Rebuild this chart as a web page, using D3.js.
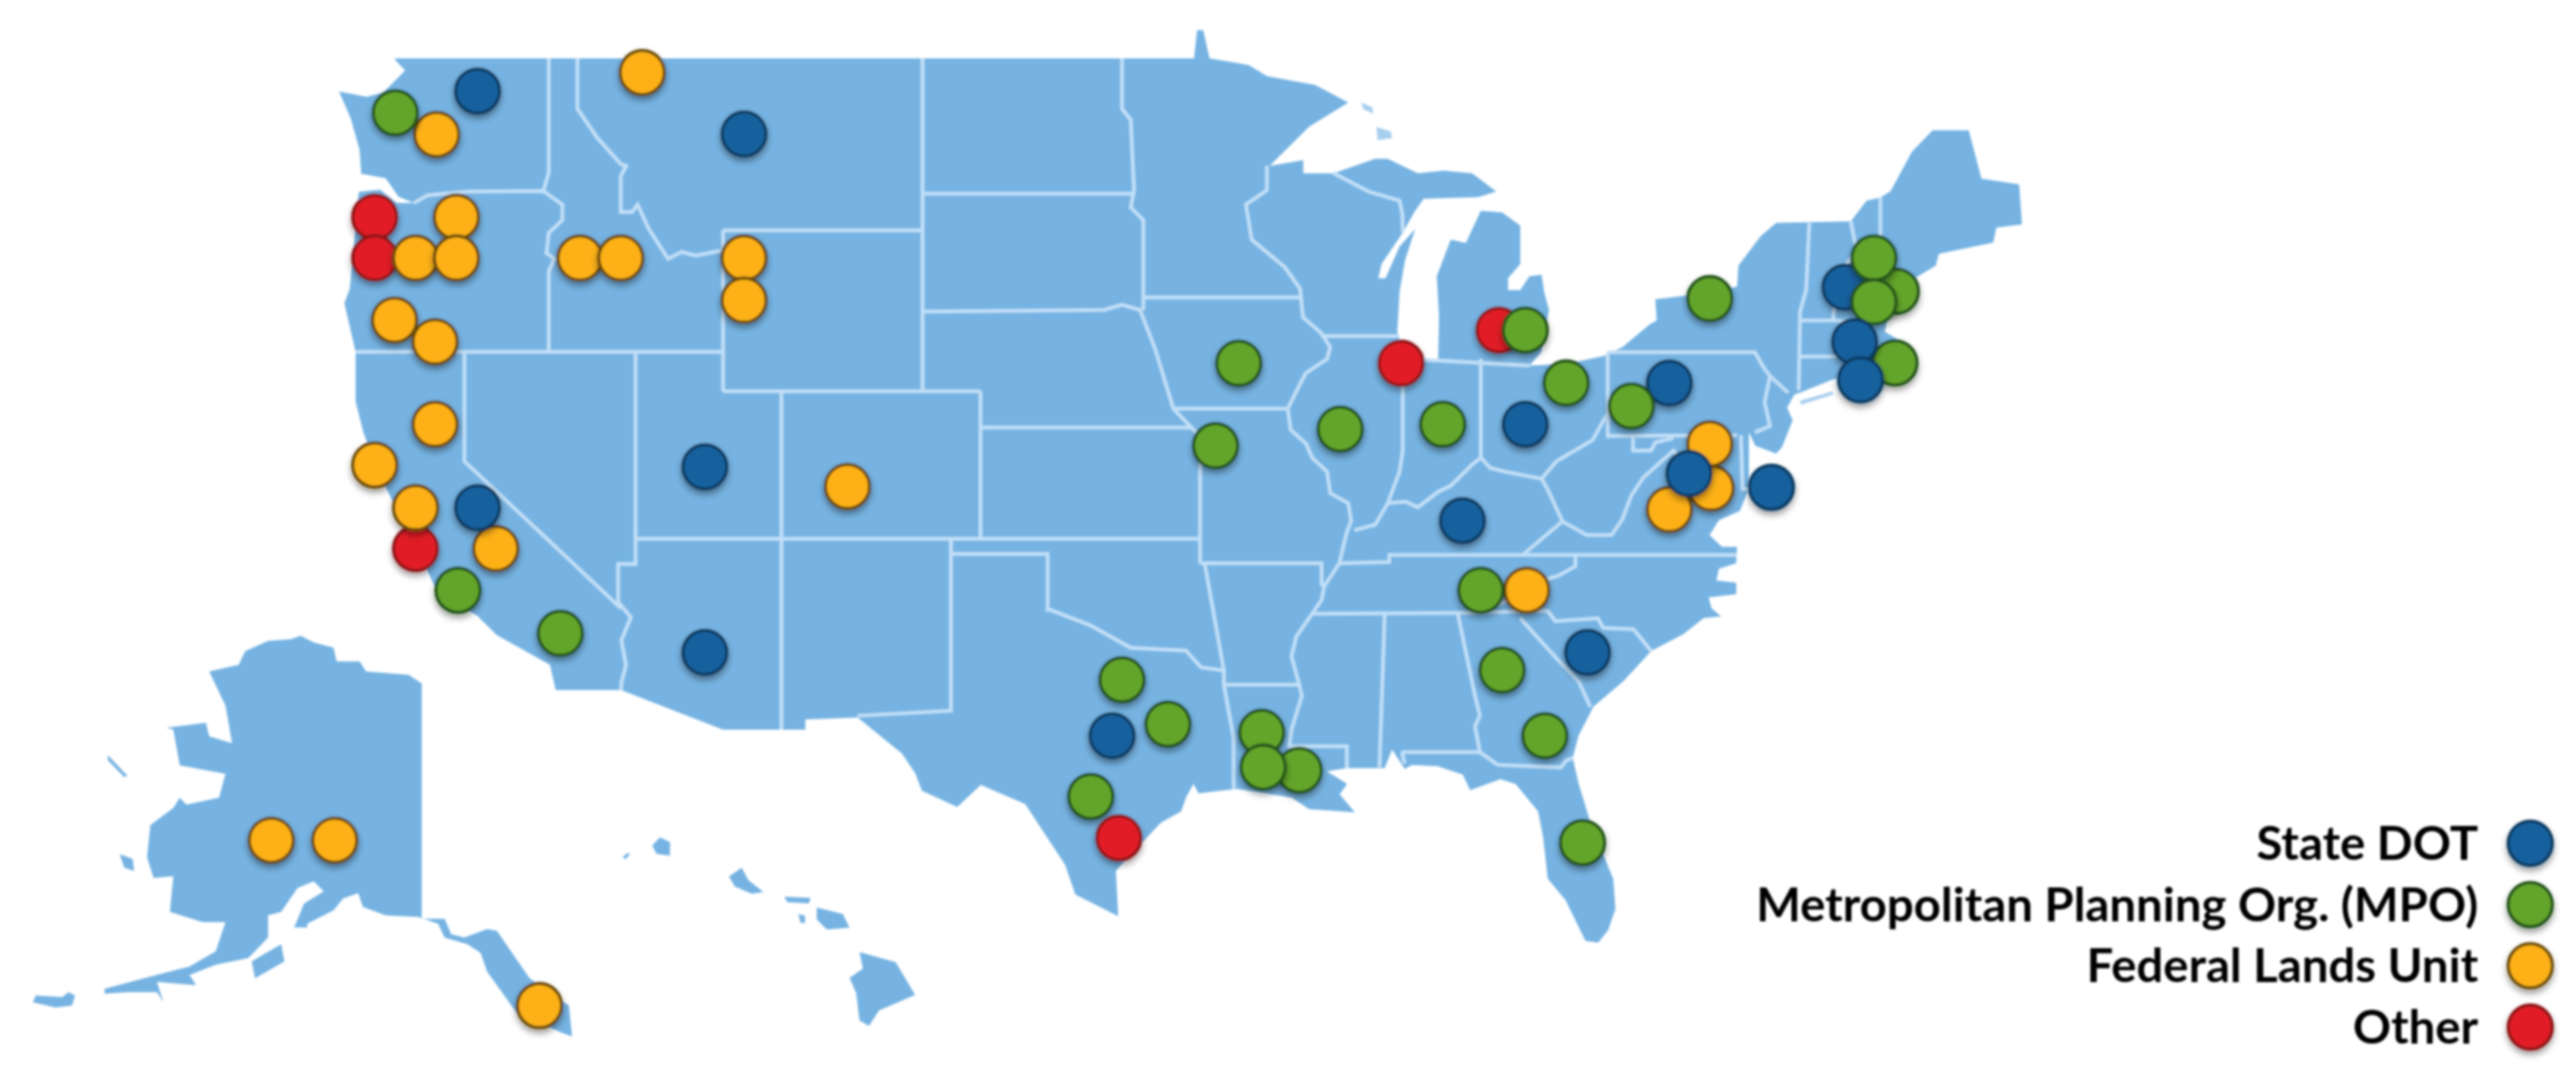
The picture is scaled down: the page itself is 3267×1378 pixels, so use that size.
<!DOCTYPE html>
<html>
<head>
<meta charset="utf-8">
<title>Sites map</title>
<script src="https://cdn.jsdelivr.net/npm/d3@7"></script>
<style>
  html, body { margin: 0; padding: 0; background: #fff; }
  text { font-family: Lato, "Open Sans", sans-serif; font-weight: 700; fill: #000; }
</style>
</head>
<body>
<svg id="map" width="3267" height="1378"></svg>
<script>
// lon, lat of the lower 48 outline, clockwise from Puget Sound
var mainland = [
  [-122.63,49],[-97.2,49],[-94.8,49],[-94.7,49.64],[-94.49,49.64],[-94.27,49],[-92.9,48.85],[-92.27,48.6],[-90.58,48.4],[-89.43,48],
  [-90.8,47.45],[-92.17,46.57],[-91,46.7],[-91,46.4],[-89.95,46.4],[-88.49,46.73],[-88.06,46.73],[-87,46.4],[-86.1,46.46],[-85.1,46.4],[-84.28,45.99],
  [-84.9,45.85],[-86.8,45.81],[-87.12,45.47],[-87.53,44.94],[-88.27,44.17],[-88.38,43.82],[-88.13,43.82],[-87.64,44.6],[-87.09,45.04],[-87.45,44.26],
  [-87.64,43.49],[-87.72,42.5],[-87.64,42.3],[-87.36,41.82],[-86.29,41.82],[-86.26,42.9],[-86.34,43.87],[-85.85,44.77],[-85.32,44.69],[-84.8,45.5],
  [-84.08,45.46],[-83.47,45.12],[-83.47,44.17],[-83.88,43.82],[-83.88,43.53],[-83.47,43.53],[-83.16,43.87],[-82.75,43.91],[-82.66,43.47],[-82.5,43.04],
  [-82.75,42],[-83.16,41.65],[-81.86,41.7],[-80.63,41.9],[-79.98,42.12],[-78.98,42.69],[-78.74,42.78],[-78.79,43.3],[-77.77,43.39],[-75.82,43.61],
  [-75.77,44.13],[-74.96,44.86],[-74.4,45.19],[-71.9,45.23],[-71.4,45.76],[-70.96,45.84],[-70.67,46],[-70.07,46.89],[-69.49,47.37],[-68.47,47.37],
  [-68.11,46.28],[-67.05,46.15],[-66.97,45.15],[-67.69,45.07],[-67.78,44.7],[-69.31,44.42],[-69.4,44.13],[-69.99,43.82],[-70.18,43.58],[-70.73,42.9],
  [-70.84,42.5],[-70.29,42.22],[-70.18,41.5],[-71.58,41.4],[-72.47,41.3],[-73.53,40.96],[-73.74,40.91],[-74,40.55],[-73.8,40.2],[-74.19,39.47],
  [-74.4,39.3],[-75.16,39.51],[-75.39,39.87],[-75.39,38.34],[-75.72,37.75],[-76.48,37.5],[-76.82,37.1],[-76.37,36.75],[-75.82,36.75],[-75.84,36.5],
  [-75.85,36.29],[-76.48,36.15],[-76.57,35.85],[-75.85,35.79],[-75.85,35.5],[-76.85,35.42],[-76.75,35.14],[-76.4,34.92],[-77.03,34.88],[-77.76,34.43],
  [-78.94,33.95],[-79.95,33.1],[-81,32.35],[-81.5,31.5],[-81.7,30.82],[-81.5,30],[-81.1,28.77],[-80.32,26.99],[-80.24,26.05],[-80.5,25.45],
  [-80.84,25.1],[-81.27,25.15],[-81.94,26.32],[-82.54,27],[-82.7,28.32],[-82.87,29.13],[-83.63,30],[-84.14,30.15],[-85.17,29.8],[-85.43,30.29],
  [-86.32,30.56],[-87.2,30.6],[-87.46,30.47],[-87.9,31.08],[-88.16,30.5],[-89.47,30.5],[-90.18,30.4],[-89.47,30],[-89.73,29.67],[-89.2,29.1],
  [-90.8,29.2],[-91.41,29.57],[-93.33,29.84],[-94.65,29.7],[-94.82,30],[-95.07,29.57],[-95.23,29.13],[-95.91,28.77],[-97.41,27.25],[-97.33,25.82],
  [-98.8,26.5],[-99.15,27.44],[-100.52,29.36],[-102.04,29.97],[-102.85,29.27],[-104.07,29.78],[-104.3,30.32],[-104.78,30.96],[-106.35,32.03],[-108.2,31.97],
  [-108.2,31.67],[-111.05,31.67],[-114.54,32.84],[-116.8,32.84],[-117,33.56],[-118.87,34.4],[-119.56,34.95],[-120.97,35.5],[-121.74,36.6],[-122.34,37.5],
  [-123.2,38.75],[-123.78,39.85],[-124.08,40.72],[-124.08,42],[-124.5,43.21],[-124.3,43.56],[-123.96,45.98],[-123.16,46.03],[-122.54,45.7],[-121.9,45.7],
  [-122.47,45.86],[-122.95,46.29],[-123.87,46.39],[-123.93,46.93],[-124.26,47.64],[-124.7,48.25],[-123.66,48.13],[-123.04,48.23],[-122.22,48.73],[-122.54,48.93]
];

// shared state lines
var stateLines = [
  [[-117.04,49],[-117.04,46.42],[-117.23,46]],
  [[-121.9,45.7],[-121.38,45.9],[-119.85,45.99],[-117.23,46],[-116.57,45.66],[-116.57,45.26],[-117.04,44.94],[-117.12,44.44],[-116.85,44.3],[-117.04,43.99],[-117.04,42]],
  [[-116.05,49],[-116.05,47.86],[-115.37,47.21],[-114.55,46.61],[-114.36,46.57],[-114.55,46.34],[-114.55,45.47],[-114.16,45.47],[-113.97,45.66],[-113.59,45.04],[-112.93,44.3],[-112.46,44.47],[-111.99,44.38],[-111.05,44.51]],
  [[-111.05,45],[-111.05,41]],
  [[-111.05,45],[-104.05,45]],
  [[-111.05,41],[-102.05,41]],
  [[-104.05,49],[-104.05,41]],
  [[-104.05,45.94],[-96.8,45.94]],
  [[-104.05,43],[-97.82,43.04],[-97.2,43.17],[-96.6,43.04],[-96.1,42.08],[-95.49,40.52],[-94.89,40],[-94.6,39.77],[-94.6,36.29]],
  [[-97.2,49],[-97.2,47.86],[-96.91,47.61],[-96.8,46.02],[-96.91,45.59],[-96.49,45.26],[-96.49,43.04]],
  [[-96.49,43.35],[-91.11,43.35]],
  [[-92.27,46.57],[-92.27,46.02],[-93,45.66],[-92.8,44.77],[-91.64,44.09],[-91.11,43.56],[-91.01,42.86],[-90.38,42.47],[-90.06,42.12],[-90.17,41.82],[-90.91,41.46],[-91.11,41.19],[-91.54,40.52],[-91.44,39.94],[-90.9,39.56],[-90.69,39.19],[-90.17,38.81],[-90.06,38.23],[-89.43,37.96],[-89.33,37.49],[-89.48,37.17],[-89.56,36.93],[-89.74,36.29],[-90.27,35.7],[-90.36,35.35],[-90.7,34.99],[-91.24,34.36],[-91.41,33.8],[-91.14,33],[-91.05,32.67],[-91.41,31.67],[-91.49,31.18],[-89.48,31.18],[-89.48,30.5]],
  [[-90.38,42.39],[-87.64,42.39]],
  [[-89.96,46.41],[-88.7,45.98],[-87.64,45.76],[-87.54,45.4],[-87.53,44.94]],
  [[-95.49,40.52],[-91.54,40.52]],
  [[-94.6,36.29],[-94.44,36.29],[-93.77,33.4],[-93.77,33],[-93.43,31.42],[-93.43,29.84]],
  [[-94.44,36.29],[-90.36,36.29],[-90.36,35.75],[-90.27,35.7]],
  [[-89.74,36.29],[-88,36.32],[-88,36.5],[-75.84,36.5]],
  [[-87.53,41.82],[-87.53,39.38],[-87.64,38.81],[-88.05,37.96],[-88.49,37.38],[-89.22,37.23]],
  [[-88.05,37.96],[-87.43,38],[-87,37.85],[-86.27,38.28],[-85.85,38.43],[-85.1,39],[-84.8,39.19],[-84.48,38.91],[-83.98,38.81],[-82.75,38.62],[-82.25,39.09],[-81.03,39.66],[-80.57,40.33]],
  [[-84.8,41.82],[-84.8,39.19]],
  [[-87.36,41.82],[-83.16,41.65]],
  [[-82.75,38.62],[-82.55,38.34],[-82.05,37.47],[-83.39,36.5]],
  [[-82.05,37.47],[-81.23,37.1],[-80.38,37.1],[-80,37.51],[-79.66,38.17],[-79.23,38.65],[-78.13,39.38],[-77.63,38.87],[-76.91,38.34],[-76.48,37.92]],
  [[-80.52,41.99],[-80.52,39.77],[-75.82,39.79]],
  [[-79.6,39.77],[-79.6,39.38],[-78.94,39.38],[-78.79,39.6],[-78.14,39.71]],
  [[-75.68,39.79],[-75.62,38.34],[-75.39,38.34]],
  [[-80.52,41.99],[-75.17,41.99],[-74.89,41.64],[-74.62,41.38],[-73.96,40.96]],
  [[-74.62,41.38],[-74.82,40.7],[-74.62,40.04],[-75.17,39.87]],
  [[-73.23,45.19],[-73.33,43.54],[-73.53,43],[-73.58,41.03]],
  [[-73.53,42.78],[-72.36,42.78],[-71.33,42.7],[-70.84,42.85]],
  [[-71.9,45.23],[-71.72,44.51],[-72.36,43.83],[-72.47,42.78]],
  [[-70.96,45.84],[-70.96,44.75],[-70.84,43.48],[-70.73,42.9]],
  [[-73.55,41.88],[-71.72,41.88],[-71.64,41.4]],
  [[-124.08,42],[-111.05,42]],
  [[-120,42],[-120,39.09],[-114.53,35.13]],
  [[-114.04,42],[-114.04,36.27],[-114.64,36.27],[-114.64,35.3],[-114.2,34.9],[-114.53,34.25],[-114.37,33.56],[-114.53,33.05],[-114.54,32.84]],
  [[-114.04,37],[-94.6,37]],
  [[-109.05,41],[-109.05,31.67]],
  [[-102.05,41],[-102.05,37]],
  [[-102.05,40],[-94.89,40]],
  [[-103.07,37],[-103.07,32.23],[-106.35,32.08]],
  [[-103.07,36.53],[-99.75,36.53],[-99.75,35.1],[-99.66,35.1],[-98.28,34.67],[-96.91,34.04],[-95.07,33.96],[-94.57,33.49],[-93.77,33.4]],
  [[-93.77,33],[-91.14,33]],
  [[-90.7,35],[-85.61,35.02],[-82.54,35.07],[-82.28,34.79],[-80.85,34.87],[-80.67,34.6],[-79.58,34.56],[-78.94,33.95]],
  [[-88.16,34.99],[-88.34,30.52]],
  [[-85.61,35.02],[-85,32.67],[-84.83,32.09],[-85,31.77],[-84.83,31],[-84.23,30.6],[-82.1,30.52],[-81.92,30.74],[-81.7,30.82]],
  [[-87.56,31],[-84.83,31]],
  [[-87.56,31],[-87.46,30.64]],
  [[-83.47,34.87],[-82.19,33.69],[-81.5,33.09],[-81.1,32.34]],
  [[-81.61,36.5],[-81.61,36.21],[-82.19,35.97],[-82.54,35.89],[-83.82,35.36],[-84.75,35.06]]
];

var lakeIslands = [
  [[-88.98,48],[-88.6,47.9],[-88.55,47.75],[-88.9,47.85]],
  [[-88.45,47.45],[-87.95,47.35],[-87.9,47.2],[-88.4,47.15]],
  [[-73.53,40.74],[-72.47,41],[-72.47,40.91],[-73.5,40.63]]
];

var alaska = [
  [-153.8,71.3],[-152.42,71.02],[-150.34,70.81],[-150,70.24],[-147.58,70.24],[-146.89,69.82],[-142.39,69.68],[-141.01,69.32],[-141.01,59.58],[-138.59,59.58],
  [-137.9,58.94],[-136.52,58.8],[-134.1,59.15],[-133.07,59.08],[-129.61,57.11],[-125.46,55.98],[-125.12,54.7],[-126.16,54.85],[-130.99,55.69],[-134.1,57.39],
  [-134.79,58.16],[-136.18,58.52],[-138.59,58.8],[-139.29,59.37],[-141.36,59.65],[-144.81,59.72],[-147.23,60.07],[-147.72,60.64],[-149.31,60.42],[-150.34,59.93],
  [-153.11,59.37],[-153.11,59.22],[-154.49,59.22],[-153.45,60.21],[-151.38,60.71],[-152.42,61.13],[-154.14,60.85],[-155.87,59.86],[-157.25,59.72],[-157.25,58.8],
  [-159.33,57.95],[-162.78,57.67],[-165.55,57.25],[-164.86,56.82],[-169,56.96],[-168.31,56.12],[-169,56.54],[-172.11,56.54],[-174.53,56.47],[-174.53,56.68],
  [-169.69,57.18],[-165.55,57.6],[-162.78,58.23],[-161.75,59.44],[-164.16,59.44],[-167.62,59.86],[-167.27,61.34],[-169.35,61.27],[-170.04,62.12],[-169.69,63.46],
  [-167.27,64.17],[-166.58,64.59],[-165.89,64.31],[-162.44,64.59],[-161.75,65.58],[-166.58,65.93],[-167.27,67.42],[-167.97,67.49],[-163.82,67.7],[-163.47,67.13],
  [-161.05,66.85],[-161.75,68.4],[-163.47,69.82],[-160.36,70.1],[-159.67,70.66],[-157.25,71.09],[-154.83,71.16]
];

var alaskaIslands = [
  [[-155.87,58.52],[-155.52,57.81],[-158.63,57.11],[-158.98,57.81]],
  [[-174.18,66.36],[-172.11,65.5],[-172.45,65.44],[-174.18,66.14]],
  [[-172.94,62.26],[-171.56,62.05],[-171.42,61.55],[-172.46,61.7]],
  [[-181.79,56.4],[-179.02,56.33],[-178.33,56.54],[-177.64,56.4],[-177.98,55.98],[-179.71,55.9],[-182.13,56.12]]
];

var hawaii = [
  [[-155.91,20.21],[-155.26,20.04],[-154.91,19.49],[-155.56,19.23],[-155.74,18.97],[-155.91,19.06],[-155.97,19.52],[-156.09,19.78],[-155.85,19.93]],
  [[-156.68,20.96],[-156.21,20.85],[-156.09,20.62],[-156.5,20.59],[-156.68,20.76]],
  [[-157.26,21.14],[-156.79,21.12],[-156.82,21.03],[-157.21,21.05]],
  [[-157.01,20.85],[-156.89,20.82],[-156.89,20.7],[-156.97,20.7]],
  [[-158.03,21.63],[-157.91,21.42],[-157.64,21.22],[-157.85,21.19],[-158.15,21.31],[-158.26,21.48]],
  [[-159.5,22.14],[-159.32,22.06],[-159.32,21.83],[-159.56,21.86],[-159.64,22]],
  [[-160.11,21.86],[-160.03,21.88],[-160.11,21.77],[-160.17,21.8]]
];

var categories = ['State DOT', 'Metropolitan Planning Org. (MPO)', 'Federal Lands Unit', 'Other'];

var stateDot = [
  [-119.54,48.26],[-110.33,47.29],[-111.67,38.94],[-119.54,37.84],[-111.67,33.91],[-77.57,38.76],[-74.57,38.39],[-85.44,37.49],
  [-83.3,40.09],[-78.28,41.21],[-81.2,33.91],[-97.54,31.49],[-72.09,43.6],[-71.78,42.25],[-71.59,41.29]
];
var mpo = [
  [-122.59,47.77],[-120.24,35.6],[-116.64,34.45],[-93.25,41.71],[-94.06,39.51],[-89.71,39.96],[-86.13,40.09],[-81.92,41.21],[-83.3,42.54],
  [-84.8,35.6],[-84.08,33.41],[-82.64,31.49],[-97.2,33.14],[-95.67,31.83],[-92.45,31.59],[-91.14,30.43],[-92.4,30.53],[-98.27,29.6],[-81.37,28.14],
  [-76.81,43.32],[-79.66,40.59],[-70.51,43.5],[-71.16,44.32],[-71.16,43.24],[-70.55,41.72]
];
var federal = [
  [-113.81,48.68],[-121.04,47.28],[-120.3,45.34],[-121.83,44.32],[-120.3,44.32],[-115.96,44.32],[-114.55,44.32],[-110.33,44.32],[-110.33,43.28],
  [-122.62,42.79],[-121.1,42.25],[-121.1,40.09],[-123.36,38.99],[-121.83,37.84],[-118.9,36.7],[-106.71,38.41],[-83.25,35.6],
  [-76.76,38.37],[-76.81,39.56],[-78.28,37.79]
];
var other = [[-123.36,45.34],[-123.36,44.32],[-121.83,36.7],[-87.59,41.71],[-84.19,42.54],[-97.31,28.29]];

var alaskaFederal = [[-156.91,62.83],[-150.2,62.83],[-128.57,55.98]];

// series drawn in this order, these few sit above the rest
var drawOrder = ['Other', 'Federal Lands Unit', 'State DOT', 'Metropolitan Planning Org. (MPO)'];
var raised = ['State DOT:13', 'State DOT:14', 'Other:5'];

var seriesValues = {
  'State DOT': stateDot,
  'Metropolitan Planning Org. (MPO)': mpo,
  'Federal Lands Unit': federal,
  'Other': other
};

var fills = d3.scaleOrdinal().domain(categories).range(['#14619e', '#64a52a', '#fdb119', '#e11f28']);
var edges = d3.scaleOrdinal().domain(categories).range(['#0b3a60', '#23521a', '#6a4c0c', '#8c1218']);

var land = '#76b3e2';
var lineColor = '#c2e0f8';
var radius = 28;

// the map is stretched unevenly, so both axes are piecewise
var lonScale = d3.scaleLinear()
  .domain([-124.7, -120, -117.04, -114.04, -111.05, -109.05, -104.05, -102.05, -97.2, -94.6, -87.53, -84.8, -80.52, -73.5, -71, -67])
  .range([430, 589, 696, 806, 917, 991, 1170, 1243.5, 1423, 1522, 1779, 1878, 2039, 2284, 2383, 2563]);
var latScale = d3.scaleLinear()
  .domain([49, 45.94, 45, 43, 42, 41, 40, 37, 36.5, 35, 33, 31, 25.85, 25.1])
  .range([74, 245.5, 292, 395, 446, 496, 542, 683, 703.6, 778, 868, 953.6, 1160, 1195]);

var akX = d3.scaleLinear().domain([-168, -141]).range([211, 535]);
var akY = d3.scaleLinear().domain([71.3, 54.7]).range([806, 1314]);
var hiX = d3.scaleLinear().domain([-159.5, -155.5]).range([837, 1119]);
var hiY = d3.scaleLinear().domain([22, 19.6]).range([1072, 1253]);

var svg = d3.select('#map');
var defs = svg.append('defs');

defs.append('filter').attr('id', 'soft')
  .attr('x', 0).attr('y', 0).attr('width', 3267).attr('height', 1378)
  .attr('filterUnits', 'userSpaceOnUse')
  .append('feGaussianBlur').attr('stdDeviation', 1.4);

var shadow = defs.append('filter').attr('id', 'shadow')
  .attr('x', '-30%').attr('y', '-30%').attr('width', '160%').attr('height', '170%');
shadow.append('feDropShadow')
  .attr('dx', 0).attr('dy', 5).attr('stdDeviation', 4)
  .attr('flood-color', '#000').attr('flood-opacity', 0.4);

var main = d3.line().x(function(d) { return lonScale(d[0]); }).y(function(d) { return latScale(d[1]); });
var ak = d3.line().x(function(d) { return akX(d[0]); }).y(function(d) { return akY(d[1]); });
var hi = d3.line().x(function(d) { return hiX(d[0]); }).y(function(d) { return hiY(d[1]); });

var page = svg.append('g').attr('filter', 'url(#soft)');
var mapLayer = page.append('g');

mapLayer.append('path').attr('d', main(mainland) + 'Z').attr('fill', land);

mapLayer.append('g').selectAll('path')
  .data(lakeIslands)
  .enter().append('path')
    .attr('d', function(d) { return main(d) + 'Z'; })
    .attr('fill', '#a9cfee');

mapLayer.append('g').selectAll('path')
  .data(stateLines)
  .enter().append('path')
    .attr('d', main)
    .attr('fill', 'none')
    .attr('stroke', lineColor)
    .attr('stroke-width', 4.5);

mapLayer.append('path').attr('d', ak(alaska) + 'Z').attr('fill', land);

mapLayer.append('g').selectAll('path')
  .data(alaskaIslands)
  .enter().append('path')
    .attr('d', function(d) { return ak(d) + 'Z'; })
    .attr('fill', land);

mapLayer.append('g').selectAll('path')
  .data(hawaii)
  .enter().append('path')
    .attr('d', function(d) { return hi(d) + 'Z'; })
    .attr('fill', land);

var sites = [];
drawOrder.forEach(function(name) {
  seriesValues[name].forEach(function(d, i) {
    sites.push({ name: name, key: name + ':' + i, x: lonScale(d[0]), y: latScale(d[1]) });
  });
});
alaskaFederal.forEach(function(d, i) {
  sites.push({ name: 'Federal Lands Unit', key: 'ak:' + i, x: akX(d[0]), y: akY(d[1]) });
});

var dots = page.append('g').attr('class', 'dots').selectAll('circle')
  .data(sites)
  .enter().append('circle')
    .attr('cx', function(d) { return d.x; })
    .attr('cy', function(d) { return d.y; })
    .attr('r', radius)
    .attr('fill', function(d) { return fills(d.name); })
    .attr('stroke', function(d) { return edges(d.name); })
    .attr('stroke-width', 4)
    .attr('filter', 'url(#shadow)');

dots.filter(function(d) { return raised.indexOf(d.key) >= 0; }).raise();

// legend
var legendY = d3.scalePoint().domain(categories).range([1069, 1302]);

var legend = page.append('g').selectAll('g')
  .data(categories)
  .enter().append('g')
    .attr('transform', function(d) { return 'translate(0,' + legendY(d) + ')'; });

legend.append('text')
  .attr('x', 3143)
  .attr('y', 0)
  .attr('dy', '0.35em')
  .attr('text-anchor', 'end')
  .attr('font-size', 60)
  .text(function(d) { return d; });

legend.append('circle')
  .attr('cx', 3209)
  .attr('cy', 0)
  .attr('r', radius)
  .attr('fill', fills)
  .attr('stroke', edges)
  .attr('stroke-width', 4)
  .attr('filter', 'url(#shadow)');
</script>
</body>
</html>
